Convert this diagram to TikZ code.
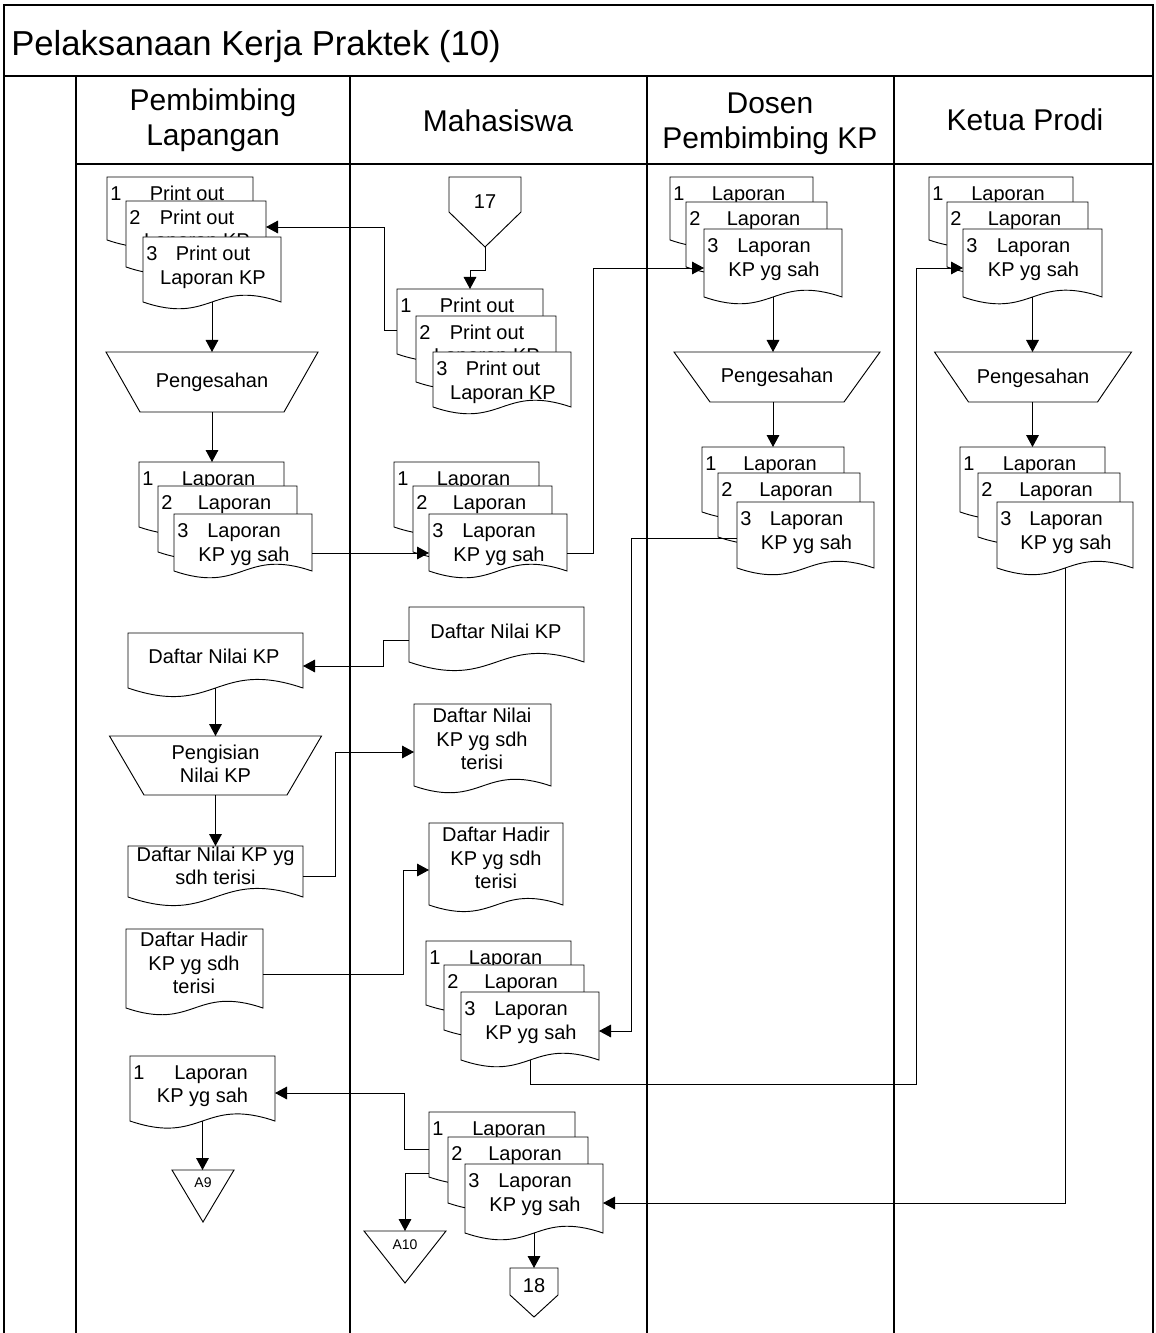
\documentclass[tikz,border=0pt]{standalone}
\usepackage{fontspec}
\setmainfont{Liberation Sans}
\usetikzlibrary{arrows.meta,calc}

\newcommand\docfont{\fontsize{15}{17.6}\selectfont}
\newcommand\hdrfont{\fontsize{22.5}{26.5}\selectfont}

\tikzset{
  laneline/.style={draw=black, line width=0.9pt},
  shp/.style={draw=black, line width=0.7pt, fill=white},
  flow/.style={draw=black, line width=0.7pt, -{Triangle[length=9pt,width=9.5pt]}},
  lbl/.style={font=\docfont, inner sep=0pt, text height=10.75pt, text depth=0pt},
  mlbl/.style={font=\docfont, inner sep=0pt, align=center},
  hdr/.style={font=\hdrfont, inner sep=0pt, align=center},
  smalllbl/.style={font=\fontsize{10.5}{12}\selectfont, inner sep=0pt, text height=7.5pt, text depth=0pt},
  docnode/.style={inner sep=0pt, outer sep=0pt, anchor=north west},
}

% document symbol: name, left, top, right, bottom (bottom = end of the straight sides)
\newcommand\docbox[5]{%
  \node[docnode, minimum width={(#4-#2)*0.75pt}, minimum height={(#5-#3)*0.75pt}] (#1) at (#2,#3) {};
  \pgfmathsetmacro\wavedepth{0.17*(#4-#2)}%
  \path[shp] (#1.north west) -- (#1.north east) -- (#1.south east)
    .. controls ($(#1.south)+(0,-\wavedepth)$) and ($(#1.south)+(0,\wavedepth)$)
    .. (#1.south west) -- cycle;
}
% copy number and one line of text (copies lying behind)
\newcommand\backtext[3]{%
  \node[lbl, anchor=west] (#1-n) at ($(#1.north west)+(3,16)$) {#2};
  \node[lbl] (#1-a) at ($(#1.north)+(7,16)$) {#3};
}
% copy number and two lines of text; the last argument is the second line's offset
\newcommand\fronttext[5]{%
  \node[lbl, anchor=west] (#1-n) at ($(#1.north west)+(3,16)$) {#2};
  \node[lbl] (#1-a) at ($(#1.north)+(1,16)$) {#3};
  \node[lbl] (#1-b) at ($(#1.north)+(1,#5)$) {#4};
}
% manual operation: name, centre x, top, bottom, half top width, half bottom width, text, text y
\newcommand\manop[8]{%
  \path[shp] (#2-#5,#3) -- (#2+#5,#3) -- (#2+#6,#4) -- (#2-#6,#4) -- cycle;
  \node[mlbl] (#1) at (#2,#8) {#7};
  \coordinate (#1-n) at (#2,#3);
  \coordinate (#1-s) at (#2,#4);
}

\begin{document}
\begin{tikzpicture}[x=0.75pt,y=-0.75pt]
\useasboundingbox (0,0) rectangle (1155,1333);

% ---------------- frame and swimlanes ----------------
\draw[laneline] (4,1333) -- (4,5) -- (1153,5) -- (1153,1333);
\draw[laneline] (4,76) -- (1153,76);
\draw[laneline] (76,164) -- (1153,164);
\foreach \lx in {76,350,647,894} \draw[laneline] (\lx,76) -- (\lx,1333);

\node[anchor=west, inner sep=0pt, font=\fontsize{26}{30}\selectfont, text height=18.6pt, text depth=0pt]
  (title) at (11,43) {Pelaksanaan Kerja Praktek (10)};
\node[hdr] (lane1) at (213,120) {Pembimbing\\Lapangan};
\node[hdr, text height=16.1pt, text depth=0pt] (lane2) at (498,121) {Mahasiswa};
\node[hdr] (lane3) at (770,124) {Dosen\\Pembimbing KP};
\node[hdr, text height=16.1pt, text depth=0pt] (lane4) at (1025,120) {Ketua Prodi};

% ---------------- Pembimbing Lapangan ----------------
\docbox{pl1a}{107}{177}{253}{240}
\backtext{pl1a}{1}{Print out}
\docbox{pl1b}{126}{201}{266}{267}
\fronttext{pl1b}{2}{Print out}{Laporan KP}{39}
\docbox{pl1c}{143}{237}{281}{302}
\fronttext{pl1c}{3}{Print out}{Laporan KP}{40}

\manop{pltr1}{212}{352}{412}{106}{72}{Pengesahan}{382}

\docbox{pl2a}{139}{462}{284}{527}
\backtext{pl2a}{1}{Laporan}
\docbox{pl2b}{158}{486}{297}{552}
\backtext{pl2b}{2}{Laporan}
\docbox{pl2c}{174}{514}{312}{571}
\fronttext{pl2c}{3}{Laporan}{KP yg sah}{40}

\docbox{pldn}{128}{633}{303}{688}
\node[lbl] (pldn-t) at (214,656) {Daftar Nilai KP};

\manop{pltr2}{215.5}{736}{795}{106}{71.5}{Pengisian\\Nilai KP}{764}

\docbox{pldns}{128}{846}{303}{897}
\node[mlbl] (pldns-t) at (215.5,866) {Daftar Nilai KP yg\\sdh terisi};

\docbox{pldh}{126}{929}{263}{1008}
\node[mlbl] (pldh-t) at (194,963) {Daftar Hadir\\KP yg sdh\\terisi};

\docbox{pl5}{130}{1056}{275}{1121}
\node[lbl, anchor=west] (pl5-n) at (133,1072) {1};
\node[lbl] (pl5-a) at (211,1072) {Laporan};
\node[lbl] (pl5-b) at (202.5,1095) {KP yg sah};

\path[shp] (172,1170) -- (234,1170) -- (203,1222) -- cycle;
\node[smalllbl] (a9) at (203,1182) {A9};
\coordinate (a9-n) at (203,1170);

% ---------------- Mahasiswa ----------------
\path[shp] (449,177) -- (521,177) -- (521,212) -- (485,247) -- (449,212) -- cycle;
\node[lbl] (c17) at (485,201) {17};
\coordinate (c17-tip) at (485,247);

\docbox{m1a}{397}{289}{543}{354}
\backtext{m1a}{1}{Print out}
\docbox{m1b}{416}{316}{556}{382}
\fronttext{m1b}{2}{Print out}{Laporan KP}{39}
\docbox{m1c}{433}{352}{571}{407}
\fronttext{m1c}{3}{Print out}{Laporan KP}{40}

\docbox{m2a}{394}{462}{539}{527}
\backtext{m2a}{1}{Laporan}
\docbox{m2b}{413}{486}{552}{552}
\backtext{m2b}{2}{Laporan}
\docbox{m2c}{429}{514}{567}{571}
\fronttext{m2c}{3}{Laporan}{KP yg sah}{40}

\docbox{mdn}{409}{607}{584}{662}
\node[lbl] (mdn-t) at (496,631) {Daftar Nilai KP};

\docbox{mdns}{414}{704}{551}{786}
\node[mlbl] (mdns-t) at (482,739) {Daftar Nilai\\KP yg sdh\\terisi};

\docbox{mdh}{429}{823}{563}{905}
\node[mlbl] (mdh-t) at (496,858) {Daftar Hadir\\KP yg sdh\\terisi};

\docbox{m3a}{426}{941}{571}{1005}
\backtext{m3a}{1}{Laporan}
\docbox{m3b}{444}{965}{584}{1030}
\backtext{m3b}{2}{Laporan}
\docbox{m3c}{461}{992}{599}{1060}
\fronttext{m3c}{3}{Laporan}{KP yg sah}{40}

\docbox{m4a}{429}{1112}{575}{1177}
\backtext{m4a}{1}{Laporan}
\docbox{m4b}{448}{1137}{588}{1203}
\backtext{m4b}{2}{Laporan}
\docbox{m4c}{465}{1164}{603}{1233}
\fronttext{m4c}{3}{Laporan}{KP yg sah}{40}

\path[shp] (364,1231) -- (446,1231) -- (405,1283) -- cycle;
\node[smalllbl] (a10) at (405,1244) {A10};
\coordinate (a10-n) at (405,1231);

\path[shp] (510,1268) -- (558,1268) -- (558,1295) -- (534,1317) -- (510,1295) -- cycle;
\node[lbl] (c18) at (534,1285) {18};
\coordinate (c18-n) at (534,1268);

% ---------------- Dosen Pembimbing KP ----------------
\docbox{d1a}{670}{177}{813}{240}
\backtext{d1a}{1}{Laporan}
\docbox{d1b}{686}{202}{827}{267}
\backtext{d1b}{2}{Laporan}
\docbox{d1c}{704}{229}{842}{297}
\fronttext{d1c}{3}{Laporan}{KP yg sah}{40}

\manop{dtr}{777}{352}{402}{103}{67}{Pengesahan}{377}

\docbox{d2a}{702}{447}{844}{512}
\backtext{d2a}{1}{Laporan}
\docbox{d2b}{718}{473}{860}{537}
\backtext{d2b}{2}{Laporan}
\docbox{d2c}{737}{502}{874}{568}
\fronttext{d2c}{3}{Laporan}{KP yg sah}{40}

% ---------------- Ketua Prodi ----------------
\docbox{k1a}{929}{177}{1073}{240}
\backtext{k1a}{1}{Laporan}
\docbox{k1b}{947}{202}{1088}{267}
\backtext{k1b}{2}{Laporan}
\docbox{k1c}{963}{229}{1102}{297}
\fronttext{k1c}{3}{Laporan}{KP yg sah}{40}

\manop{ktr}{1033}{352}{402}{98.5}{64.5}{Pengesahan}{378}

\docbox{k2a}{960}{447}{1105}{512}
\backtext{k2a}{1}{Laporan}
\docbox{k2b}{978}{473}{1120}{537}
\backtext{k2b}{2}{Laporan}
\docbox{k2c}{997}{502}{1133}{568}
\fronttext{k2c}{3}{Laporan}{KP yg sah}{40}

% ---------------- flows ----------------
\draw[flow] (pl1c.south) -- (pl1c.south |- pltr1-n);
\draw[flow] (pltr1-s) -- (pltr1-s |- pl2a.north);
\draw[flow] (pl2c.east |- 0,553) -- (m2c.west |- 0,553);
\draw[flow] (m2c.east |- 0,553) -| (593,268) -- (d1c.west |- 0,268);
\draw[flow] (c17-tip) -- (485,270) -- (470,270) -- (m1a.north);
\draw[flow] (m1a.west |- 0,330) -| (384,227) -- (pl1b.east |- 0,227);
\draw[flow] (d1c.south) -- (d1c.south |- dtr-n);
\draw[flow] (d1c.south |- dtr-s) -- (d2a.north);
\draw[flow] (k1c.south) -- (k1c.south |- ktr-n);
\draw[flow] (k1c.south |- ktr-s) -- (k2a.north);
\draw[flow] (mdn.west |- 0,640) -| (383,666) -- (pldn.east |- 0,666);
\draw[flow] (pldn.south) -- (pldn.south |- pltr2-n);
\draw[flow] (pldn.south |- pltr2-s) -- (pldns.north);
\draw[flow] (pldns.east |- 0,876) -| (335,752) -- (mdns.west |- 0,752);
\draw[flow] (pldh.east |- 0,974) -| (403,870) -- (mdh.west |- 0,870);
\draw[flow] (d2c.west |- 0,538) -| (631,1031) -- (m3c.east |- 0,1031);
\draw[flow] (m3c.south) |- (916,1084) -- (916,268) -- (k1c.west |- 0,268);
\draw[flow] (k2c.south) |- (m4c.east |- 0,1203);
\draw[flow] (m4a.west |- 0,1149) -| (404,1093) -- (pl5.east |- 0,1093);
\draw[flow] (m4a.west |- 0,1173) -| (a10-n);
\draw[flow] (m4c.south) -- (m4c.south |- c18-n);
\draw[flow] (pl5.south) -- (pl5.south |- a9-n);
\end{tikzpicture}
\end{document}
